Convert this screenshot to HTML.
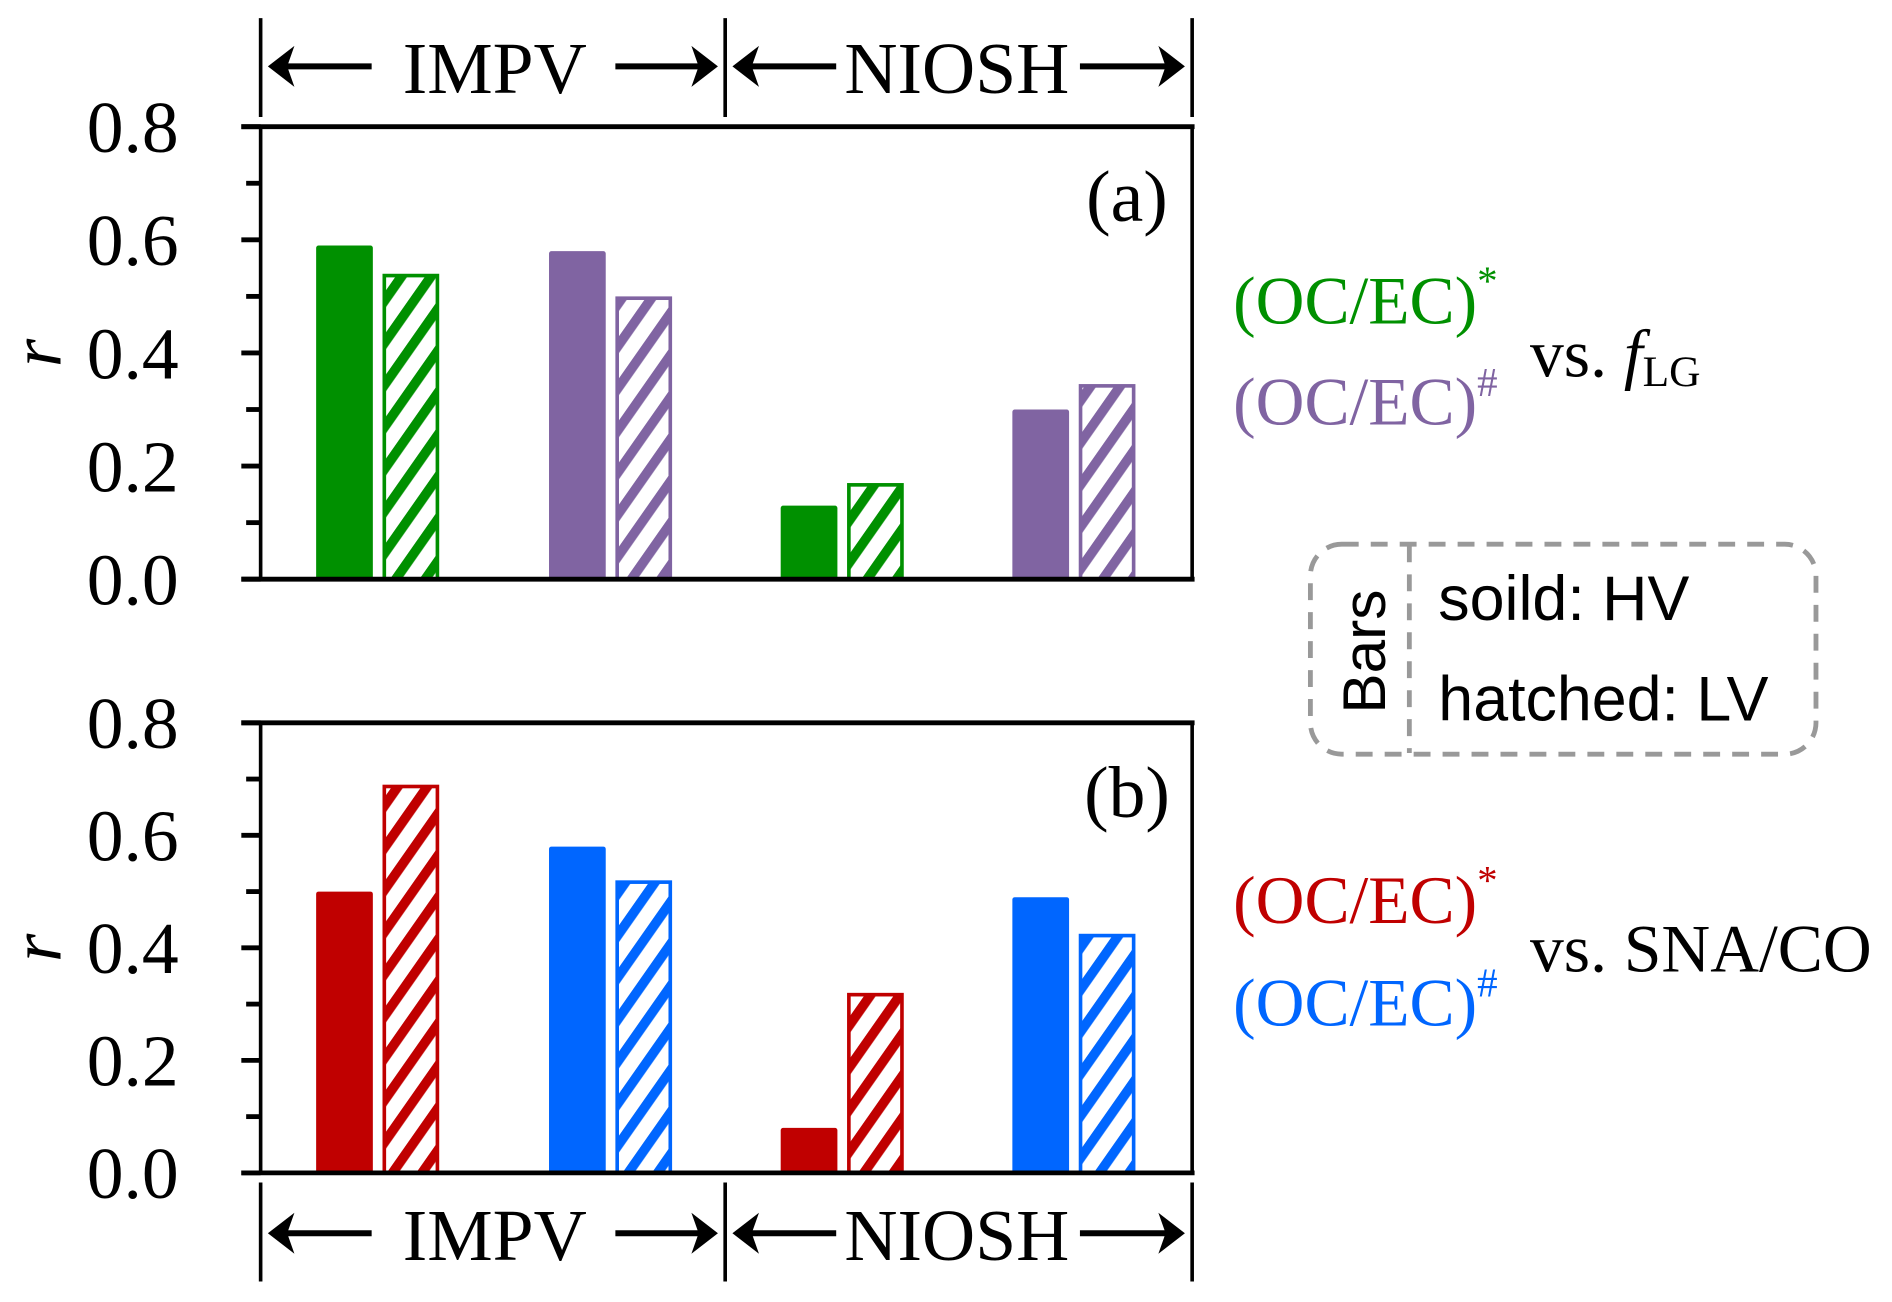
<!DOCTYPE html>
<html><head><meta charset="utf-8"><style>
html,body{margin:0;padding:0;background:#fff;}
svg{display:block;}
.serif{font-family:"Liberation Serif",serif;}
.sans{font-family:"Liberation Sans",sans-serif;}
</style></head><body>
<svg id="chart" width="1892" height="1302" viewBox="0 0 1568 1079" preserveAspectRatio="none" xmlns="http://www.w3.org/2000/svg">
<defs>
<pattern id="h-green" patternUnits="userSpaceOnUse" width="20" height="20" patternTransform="rotate(-55)"><rect width="20" height="20" fill="#fff"/><rect width="20" height="8" fill="#009000"/></pattern>
<pattern id="h-purple" patternUnits="userSpaceOnUse" width="20" height="20" patternTransform="rotate(-55)"><rect width="20" height="20" fill="#fff"/><rect width="20" height="8" fill="#8064a2"/></pattern>
<pattern id="h-red" patternUnits="userSpaceOnUse" width="20" height="20" patternTransform="rotate(-55)"><rect width="20" height="20" fill="#fff"/><rect width="20" height="8" fill="#c00000"/></pattern>
<pattern id="h-blue" patternUnits="userSpaceOnUse" width="20" height="20" patternTransform="rotate(-55)"><rect width="20" height="20" fill="#fff"/><rect width="20" height="8" fill="#0066ff"/></pattern>
</defs>
<g id="layer"></g>
</svg>
<script>
const categories = ["IMPV-1","IMPV-2","NIOSH-1","NIOSH-2"];
const solidA = [0.59, 0.58, 0.13, 0.30];
const hatchA = [0.54, 0.50, 0.17, 0.345];
const solidB = [0.50, 0.58, 0.08, 0.49];
const hatchB = [0.69, 0.52, 0.32, 0.425];
const tickLabels = ["0.0","0.2","0.4","0.6","0.8"];
const tickValues = [0, 0.2, 0.4, 0.6, 0.8];

const NS = "http://www.w3.org/2000/svg";
const layer = document.getElementById('layer');
function mk(tag, attrs, parent){const e=document.createElementNS(NS,tag);for(const k in attrs)e.setAttribute(k,attrs[k]);(parent||layer).appendChild(e);return e;}

const xLeft=216, xRight=988;
const groupStart=[262,455,647,839];
const barW=47, hatchOff=55;
function xPos(i){return groupStart[i];}

function panel(name, top, bottom, solid, hatch, colors, hatchIds, tag){
  const g=mk('g',{});
  
  
  const y=v=>bottom-(v/0.8)*(bottom-top);
  for(let i=0;i<categories.length;i++){
    const c=colors[i%2], hid=hatchIds[i%2];
    const s=mk('rect',{x:xPos(i),y:y(solid[i]),width:barW,height:bottom-y(solid[i]),fill:c,rx:2},g);
    
    
    const h=mk('rect',{x:xPos(i)+hatchOff+1.5,y:y(hatch[i])+1.5,width:barW-3,height:bottom-y(hatch[i])-1.5,fill:'url(#'+hid+')',stroke:c,'stroke-width':3},g);
    
    
  }
  mk('line',{x1:200,y1:top,x2:xRight+2,y2:top,stroke:'#000','stroke-width':4},g);
  mk('line',{x1:200,y1:bottom,x2:xRight+2,y2:bottom,stroke:'#000','stroke-width':4},g);
  mk('line',{x1:xLeft,y1:top,x2:xLeft,y2:bottom,stroke:'#000','stroke-width':3},g);
  mk('line',{x1:xRight,y1:top,x2:xRight,y2:bottom,stroke:'#000','stroke-width':3},g);
  for(let k=1;k<8;k+=2){mk('line',{x1:204,y1:y(k/10),x2:xLeft,y2:y(k/10),stroke:'#000','stroke-width':4},g);}
  for(let k=0;k<tickValues.length;k++){
    mk('line',{x1:200,y1:y(tickValues[k]),x2:xLeft,y2:y(tickValues[k]),stroke:'#000','stroke-width':4},g);
    const t=mk('text',{x:110,y:y(tickValues[k])+21,'text-anchor':'middle','font-size':61,class:'serif'},g);
    t.textContent=tickLabels[k];
    
    
  }
  const yl=mk('text',{x:0,y:0,'font-size':60,'font-style':'italic',class:'serif','text-anchor':'middle',transform:'translate(50,'+((top+bottom)/2)+') rotate(-90)'},g);
  yl.textContent='r';
  
  
  const pl=mk('text',{x:934,y:top+78,'text-anchor':'middle','font-size':61,class:'serif'},g);
  pl.textContent=tag;
  
  
}
panel('panel-a',105,480,solidA,hatchA,['#009000','#8064a2'],['h-green','h-purple'],'(a)');
panel('panel-b',599,972,solidB,hatchB,['#c00000','#0066ff'],['h-red','h-blue'],'(b)');

function bracket(name,y1,y2,ay){
  const g=mk('g',{});
  
  
  [216,601,988].forEach(x=>mk('line',{x1:x,y1:y1,x2:x,y2:y2,stroke:'#000','stroke-width':3},g));
  const arrows=[[222,308,'L'],[510,595,'R'],[607,693,'L'],[895,982,'R']];
  arrows.forEach(a=>{
    mk('line',{x1:a[0]+(a[2]=='L'?10:0),y1:ay,x2:a[1]-(a[2]=='R'?10:0),y2:ay,stroke:'#000','stroke-width':5},g);
    if(a[2]=='L') mk('path',{d:`M${a[0]} ${ay} L${a[0]+22} ${ay-17} L${a[0]+16} ${ay} L${a[0]+22} ${ay+17} Z`,fill:'#000'},g);
    else mk('path',{d:`M${a[1]} ${ay} L${a[1]-22} ${ay-17} L${a[1]-16} ${ay} L${a[1]-22} ${ay+17} Z`,fill:'#000'},g);
  });
  const t1=mk('text',{x:410,y:ay+22,'text-anchor':'middle','font-size':61,class:'serif'},g);t1.textContent='IMPV';
  
  
  const t2=mk('text',{x:793,y:ay+22,'text-anchor':'middle','font-size':61,class:'serif'},g);t2.textContent='NIOSH';
  
  
}
bracket('top-group-bracket',15,97,55);
bracket('bottom-group-bracket',980,1062,1022);
</script>
<div style="position:absolute;left:0;top:0;width:1892px;height:1302px;pointer-events:none">
<svg width="1892" height="1302" viewBox="0 0 1568 1079" preserveAspectRatio="none" xmlns="http://www.w3.org/2000/svg">
<g font-size="56" font-family="Liberation Serif, serif">
<text x="1022" y="268" fill="#009000">(OC/EC)<tspan font-size="34" dy="-24">*</tspan></text>
<text x="1022" y="352" fill="#8064a2">(OC/EC)<tspan font-size="34" dy="-24">#</tspan></text>
<text x="1268" y="312" fill="#000">vs. <tspan font-style="italic">f</tspan><tspan font-size="36" dy="8">LG</tspan></text>
</g>
<g font-size="56" font-family="Liberation Serif, serif">
<text x="1022" y="765" fill="#c00000">(OC/EC)<tspan font-size="34" dy="-24">*</tspan></text>
<text x="1022" y="850" fill="#0066ff">(OC/EC)<tspan font-size="34" dy="-24">#</tspan></text>
<text x="1268" y="805" fill="#000">vs. SNA/CO</text>
</g>
<g font-family="Liberation Sans, sans-serif">
<rect x="1086" y="451" width="419" height="174" rx="26" fill="none" stroke="#999" stroke-width="4" stroke-dasharray="14,10"/>
<line x1="1168" y1="452" x2="1168" y2="624" stroke="#999" stroke-width="4" stroke-dasharray="14,10"/>
<text transform="translate(1148,540) rotate(-90)" text-anchor="middle" font-size="50">Bars</text>
<text x="1192" y="514" font-size="52">soild: HV</text>
<text x="1192" y="597" font-size="52">hatched: LV</text>
</g>
</svg></div>
</body></html>
